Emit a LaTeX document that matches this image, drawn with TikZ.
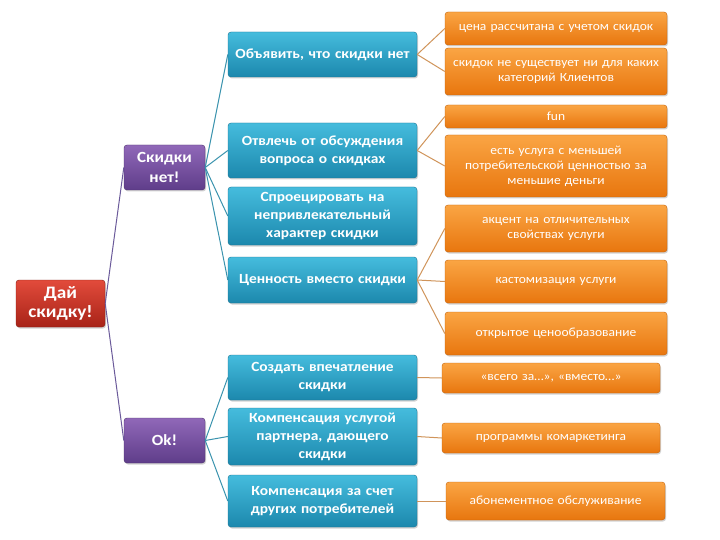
\documentclass[tikz,border=0pt]{standalone}
\usepackage{fontspec}
\setmainfont{Carlito}
\newfontfamily\wideA{Carlito}[FakeStretch=1.1]
\newfontfamily\wideB{Carlito}[FakeStretch=1.08]
\usetikzlibrary{shadows}
\definecolor{redT}{HTML}{E24B3B}
\definecolor{redB}{HTML}{A82318}
\definecolor{purT}{HTML}{9068B8}
\definecolor{purB}{HTML}{5F3D8A}
\definecolor{bluT}{HTML}{45BCDD}
\definecolor{bluB}{HTML}{1C88AD}
\definecolor{orT}{HTML}{FAA544}
\definecolor{orB}{HTML}{E8760E}
\definecolor{lnPur}{HTML}{6B5A9A}
\definecolor{lnBlu}{HTML}{3A93AE}
\definecolor{lnOr}{HTML}{D0945A}
\tikzset{
  box/.style={rectangle, rounded corners=3pt, align=center, inner sep=2pt, text=white,
    drop shadow={shadow xshift=1pt, shadow yshift=-1.5pt, opacity=0.35}},
  rootbox/.style={box, top color=redT, bottom color=redB, draw=redB!80!black, line width=0.4pt,
    minimum width=89pt, minimum height=47pt, font=\wideA\fontsize{17.5}{19.5}\selectfont\bfseries},
  purbox/.style={box, top color=purT, bottom color=purB, draw=purB!80!black, line width=0.4pt,
    minimum width=81pt, minimum height=45pt, font=\wideA\fontsize{15.5}{20}\selectfont\bfseries},
  blubox/.style={box, top color=bluT, bottom color=bluB, draw=bluB!85!black, line width=0.4pt,
    minimum width=189pt, text width=185pt, font=\wideA\fontsize{14}{18}\selectfont\bfseries},
  orbox/.style={box, top color=orT, bottom color=orB, draw=orB!85!black, line width=0.4pt,
    text width=214pt, font=\wideB\fontsize{12.5}{15}\selectfont},
  lp/.style={draw=lnPur, line width=1pt},
  lb/.style={draw=lnBlu, line width=1pt},
  lo/.style={draw=lnOr, line width=1pt}
}
\begin{document}
\begin{tikzpicture}[x=1pt,y=-1pt]
\useasboundingbox[fill=white] (0,0) rectangle (720,540);
% root and purple
\node[rootbox] (root) at (60.5,303.5) {Дай\\скидку!};
\node[purbox] (no) at (164.5,167.5) {Скидки\\нет!};
\node[purbox] (ok) at (164.5,440.5) {Ok!};
% blue
\node[blubox, minimum height=45pt] (b1) at (322.5,54.5) {Объявить, что скидки нет};
\node[blubox, minimum height=55pt] (b2) at (322.5,150.5) {Отвлечь от обсуждения\\вопроса о скидках};
\node[blubox, minimum height=58pt] (b3) at (322.5,216) {Спроецировать на\\непривлекательный\\характер скидки};
\node[blubox, minimum height=46pt] (b4) at (322.5,280) {Ценность вместо скидки};
\node[blubox, minimum height=45pt] (b5) at (322.5,377.5) {Создать впечатление\\скидки};
\node[blubox, minimum height=57pt] (b6) at (322.5,436.5) {Компенсация услугой\\партнера, дающего\\скидки};
\node[blubox, minimum height=52pt] (b7) at (322.5,501) {Компенсация за счет\\других потребителей};
% orange
\node[orbox, minimum width=222pt, minimum height=33pt] (o1) at (556,28.5) {цена рассчитана с учетом скидок};
\node[orbox, minimum width=222pt, minimum height=47pt] (o2) at (556,71.5) {скидок не существует ни для каких\\категорий Клиентов};
\node[orbox, minimum width=222pt, minimum height=23pt] (o3) at (556,116.5) {fun};
\node[orbox, minimum width=222pt, minimum height=62pt] (o4) at (556,166) {есть услуга с меньшей\\потребительской ценностью за\\меньшие деньги};
\node[orbox, minimum width=222pt, minimum height=47pt] (o5) at (556,228.5) {акцент на отличительных\\свойствах услуги};
\node[orbox, minimum width=222pt, minimum height=43pt] (o6) at (556,281.5) {кастомизация услуги};
\node[orbox, minimum width=222pt, minimum height=43pt] (o7) at (556,333.5) {открытое ценообразование};
\node[orbox, minimum width=218pt, minimum height=30pt] (o8) at (551,378) {«всего за…», «вместо…»};
\node[orbox, minimum width=218pt, minimum height=30pt] (o9) at (551,438) {программы комаркетинга};
\node[orbox, minimum width=219pt, minimum height=38pt] (o10) at (555.5,501) {абонементное обслуживание};
% connectors
\draw[lp] (root.east) -- (no.west);
\draw[lp] (root.east) -- (ok.west);
\foreach \b in {b1,b2,b3,b4} \draw[lb] (no.east) -- (\b.west);
\foreach \b in {b5,b6,b7} \draw[lb] (ok.east) -- (\b.west);
\draw[lo] (b1.east) -- (o1.west);
\draw[lo] (b1.east) -- (o2.west);
\draw[lo] (b2.east) -- (o3.west);
\draw[lo] (b2.east) -- (o4.west);
\draw[lo] (b4.east) -- (o5.west);
\draw[lo] (b4.east) -- (o6.west);
\draw[lo] (b4.east) -- (o7.west);
\draw[lo] (b5.east) -- (o8.west);
\draw[lo] (b6.east) -- (o9.west);
\draw[lo] (b7.east) -- (o10.west);
\end{tikzpicture}
\end{document}
